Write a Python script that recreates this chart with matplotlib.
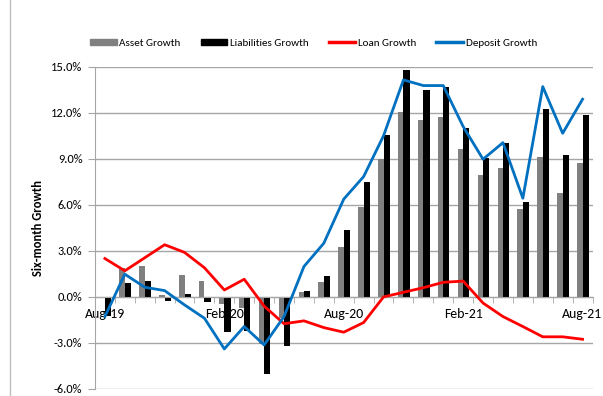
import matplotlib
matplotlib.use("Agg")
import matplotlib.pyplot as plt
import numpy as np
from matplotlib.patches import Patch
from matplotlib.lines import Line2D

plt.rcParams['font.family'] = ['Carlito', 'Lato', 'DejaVu Sans']

months = ['Aug-19', 'Sep-19', 'Oct-19', 'Nov-19', 'Dec-19', 'Jan-20', 'Feb-20',
          'Mar-20', 'Apr-20', 'May-20', 'Jun-20', 'Jul-20', 'Aug-20', 'Sep-20',
          'Oct-20', 'Nov-20', 'Dec-20', 'Jan-21', 'Feb-21', 'Mar-21', 'Apr-21',
          'May-21', 'Jun-21', 'Jul-21', 'Aug-21']
asset_growth = [-0.1, 1.87, 2.02, 0.1, 1.43, 1.04, -0.48, -0.74, -3.08, -1.4,
                0.3, 0.96, 3.24, 5.88, 8.99, 12.07, 11.55, 11.75, 9.62, 7.95,
                8.38, 5.71, 9.1, 6.75, 8.71]
liabilities_growth = [-1.25, 0.89, 1.04, -0.25, 0.17, -0.3, -2.26, -2.25, -5.04, -3.19,
                      0.39, 1.37, 4.36, 7.51, 10.55, 14.79, 13.49, 13.7, 10.99, 9.04,
                      10.01, 6.21, 12.23, 9.25, 11.86]
loan_growth = [2.5, 1.7, 2.55, 3.4, 2.9, 1.9, 0.45, 1.15, -0.6, -1.75,
               -1.56, -2.0, -2.3, -1.67, 0.0, 0.3, 0.6, 0.95, 1.03, -0.4,
               -1.28, -1.93, -2.6, -2.6, -2.76]
deposit_growth = [-1.28, 1.48, 0.63, 0.41, -0.52, -1.39, -3.39, -1.93, -3.13, -1.28,
                  1.98, 3.5, 6.37, 7.84, 10.5, 14.14, 13.77, 13.77, 11.1, 8.97,
                  10.05, 6.43, 13.7, 10.66, 12.88]

x = np.arange(len(months))
w_asset, w_liab = 0.27, 0.31
grid_col = '#A6A6A6'

fig = plt.figure(figsize=(6.03, 3.96), dpi=100)
ax = fig.add_axes([0.1575, 0.0177, 0.8251, 0.8139])

ax.bar(x - w_asset / 2, asset_growth, w_asset, color='#808080', zorder=2)
ax.bar(x + w_liab / 2, liabilities_growth, w_liab, color='#000000', zorder=2)
ax.plot(x, loan_growth, color='#FF0000', lw=2, zorder=3)
ax.plot(x, deposit_growth, color='#0070C0', lw=2, zorder=3)

ax.set_xlim(-0.5, len(months) - 0.5)
ax.set_ylim(-6, 15)
ax.set_yticks(np.arange(-6, 15.1, 3))
ax.set_yticklabels([f'{v:.1f}%' for v in np.arange(-6, 15.1, 3)], fontsize=9)
ax.yaxis.grid(True, color=grid_col, lw=1, zorder=0)
ax.set_axisbelow(True)

# category labels every six months, tick marks between categories
ax.set_xticks(x[::6])
ax.set_xticklabels(months[::6], fontsize=9, color='#333333')
ax.set_xticks(np.arange(-0.5, len(months), 1), minor=True)
ax.tick_params(axis='x', which='major', length=0, pad=8)
ax.tick_params(axis='x', which='minor', length=4, color=grid_col, direction='out')
ax.tick_params(axis='y', length=5, color=grid_col, pad=4)

ax.spines['bottom'].set_position(('data', 0))
ax.spines['bottom'].set_color(grid_col)
ax.spines['left'].set_color(grid_col)
ax.spines['top'].set_visible(False)
ax.spines['right'].set_visible(False)

ax.set_ylabel('Six-month Growth', fontsize=9, fontweight='bold', labelpad=5)

handles = [Patch(color='#808080', label='Asset Growth'),
           Patch(color='#000000', label='Liabilities Growth'),
           Line2D([], [], color='#FF0000', lw=2.5, label='Loan Growth'),
           Line2D([], [], color='#0070C0', lw=2.5, label='Deposit Growth')]
fig.legend(handles=handles, loc='center', bbox_to_anchor=(0.52, 0.891), ncol=4,
           frameon=False, fontsize=8, handlelength=2.4, handleheight=0.5,
           handletextpad=0.25, columnspacing=1.8)

fig.add_artist(Line2D([10 / 603, 10 / 603], [0, 1], color='#BFBFBF', lw=1))

fig.savefig('out.png', dpi=100)
